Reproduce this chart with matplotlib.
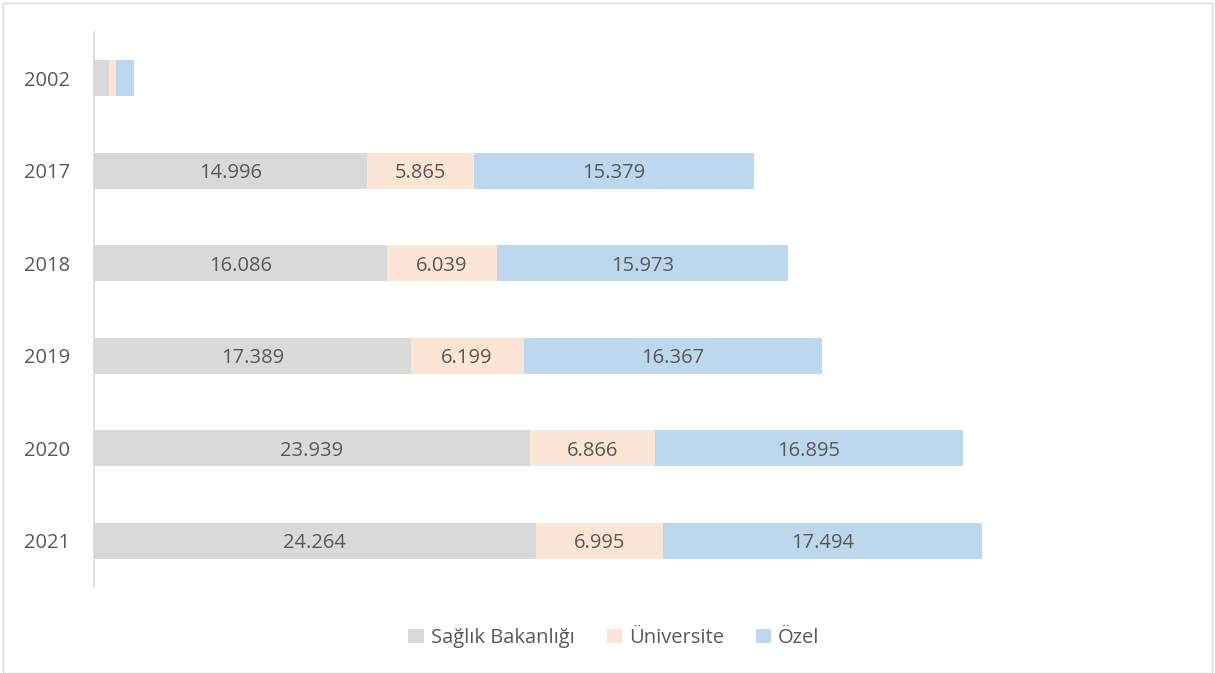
import matplotlib.pyplot as plt
import numpy as np
from matplotlib.patches import Rectangle

years = ["2002", "2017", "2018", "2019", "2020", "2021"]
saglik = [0.85, 14.996, 16.086, 17.389, 23.939, 24.264]
universite = [0.37, 5.865, 6.039, 6.199, 6.866, 6.995]
ozel = [0.95, 15.379, 15.973, 16.367, 16.895, 17.494]

series = [("Sağlık Bakanlığı", saglik, "#d9d9d9"),
          ("Üniversite", universite, "#fbe5d6"),
          ("Özel", ozel, "#bdd7ee")]

plt.rcParams["font.family"] = ["Open Sans", "DejaVu Sans"]
text_color = "#595959"
fs = 14.5

fig = plt.figure(figsize=(12.15, 6.73), dpi=100)
ax = fig.add_axes([94 / 1215, 1 - 587 / 673, (1183 - 94) / 1215, (587 - 32) / 673])

y = np.arange(len(years))
left = np.zeros(len(years))
for name, vals, color in series:
    vals = np.array(vals)
    bars = ax.barh(y, vals, left=left, height=0.39, color=color, label=name)
    labels = [f"{v:.3f}" if v > 1 else "" for v in vals]
    texts = ax.bar_label(bars, labels=labels, label_type="center", color=text_color, fontsize=fs)
    for t in texts:
        t.set_va("center_baseline")
    left += vals

ax.set_ylim(len(years) - 0.5, -0.5)
ax.set_xlim(0, 59.8)
ax.set_yticks(y)
ax.set_yticklabels(years, color=text_color, fontsize=fs, va="center_baseline")
ax.tick_params(axis="y", length=0, pad=17)
ax.set_xticks([])
for side in ["top", "right", "bottom"]:
    ax.spines[side].set_visible(False)
ax.spines["left"].set_color("#d9d9d9")
ax.spines["left"].set_linewidth(1.2)

fig.legend(loc="center", bbox_to_anchor=(614 / 1215, 1 - 638 / 673), ncol=3, frameon=False,
           fontsize=fs, labelcolor=text_color, handlelength=0.75, handleheight=0.75,
           handletextpad=0.35, columnspacing=1.6)

fig.patches.append(Rectangle((3 / 1215, 0), 1209 / 1215, 1 - 3 / 673, transform=fig.transFigure,
                             fill=False, edgecolor="#d9d9d9", linewidth=1))

fig.savefig("out.png", dpi=100)
